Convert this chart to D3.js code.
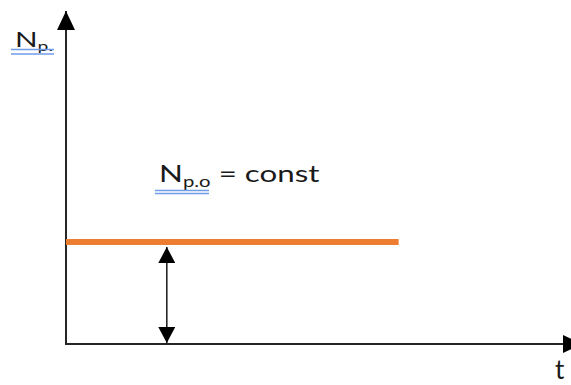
<!DOCTYPE html>
<html>
<head>
<meta charset="utf-8">
<script src="https://cdn.jsdelivr.net/npm/d3@7"></script>
<style>
  html, body { margin: 0; padding: 0; background: #fff; }
  svg { display: block; font-family: Lato, "Open Sans", sans-serif; }
</style>
</head>
<body>
<div id="chart"></div>
<script>
'use strict';

// data
const timeDomain = [0, 10];
const levelDomain = [0, 1];
const constTimes = [0, 6.6];
const constValues = [1, 1];
const markerTime = [2];
const axisLabelY = { main: 'N', sub: 'p.' };
const lineLabel = { main: 'N', sub: 'p.o', rest: ' = const' };
const axisLabelX = 't';

const W = 571, H = 385;
const ORANGE = '#ED7D31';
const AXIS = '#262626';
const SPELL = '#6f9be8';

const x = d3.scaleLinear().domain(timeDomain).range([66, 570]);
const y = d3.scaleLinear().domain(levelDomain).range([344, 242]);

const svg = d3.select('#chart').append('svg')
  .attr('width', W).attr('height', H);

const defs = svg.append('defs');
function arrowMarker(id, w, h) {
  defs.append('marker')
    .attr('id', id)
    .attr('viewBox', `0 0 ${h} ${w}`)
    .attr('refX', h).attr('refY', w / 2)
    .attr('markerUnits', 'userSpaceOnUse')
    .attr('markerWidth', h).attr('markerHeight', w)
    .attr('orient', 'auto-start-reverse')
    .append('path')
    .attr('d', `M0,0L${h},${w / 2}L0,${w}Z`)
    .attr('fill', '#000');
}
arrowMarker('axisHead', 18, 19);
arrowMarker('dimHead', 17, 16);

// axes
const yTop = y.invert(11);
svg.append('line')
  .attr('x1', x(0)).attr('y1', y(0))
  .attr('x2', x(0)).attr('y2', y(yTop))
  .attr('stroke', AXIS).attr('stroke-width', 2)
  .attr('marker-end', 'url(#axisHead)');

svg.append('line')
  .attr('x1', x(0) - 1).attr('y1', y(0))
  .attr('x2', x.range()[1] + 12).attr('y2', y(0))
  .attr('stroke', AXIS).attr('stroke-width', 2.2)
  .attr('marker-end', 'url(#axisHead)');

// constant level
const pts = constTimes.map((t, i) => [t, constValues[i]]);
svg.append('path')
  .datum(pts)
  .attr('d', d3.line().x(d => x(d[0])).y(d => y(d[1])))
  .attr('fill', 'none')
  .attr('stroke', ORANGE)
  .attr('stroke-width', 6);

// dimension arrow
markerTime.forEach(t => {
  svg.append('line')
    .attr('x1', x(t)).attr('x2', x(t))
    .attr('y1', y(constValues[0]) + 5)
    .attr('y2', y(0) - 1)
    .attr('stroke', AXIS).attr('stroke-width', 1.6)
    .attr('marker-start', 'url(#dimHead)')
    .attr('marker-end', 'url(#dimHead)');
});

// labels (source text looks stretched sideways, so fit to a width)
function subLabel(px, py, size, lbl, width) {
  const t = svg.append('text')
    .attr('x', px).attr('y', py)
    .attr('font-size', size)
    .attr('fill', '#1a1a1a');
  t.append('tspan').text(lbl.main);
  t.append('tspan')
    .attr('font-size', size * 0.65)
    .attr('dy', size * 0.2)
    .text(lbl.sub);
  if (lbl.rest) {
    t.append('tspan')
      .attr('dy', -size * 0.2)
      .text(lbl.rest);
  }
  const bw = t.node().getBBox().width;
  const k = width / bw;
  t.attr('transform', `translate(${px},0) scale(${k},1) translate(${-px},0)`);
  return t;
}

function spellLines(x1, x2, yy, gap) {
  [0, gap].forEach(off => {
    svg.append('line')
      .attr('x1', x1).attr('x2', x2)
      .attr('y1', yy + off).attr('y2', yy + off)
      .attr('stroke', SPELL).attr('stroke-width', 1.6);
  });
}

subLabel(15, 47, 21, axisLabelY, 38);
spellLines(11, 54, 49.5, 4.5);

subLabel(159, 182, 24, lineLabel, 161);
spellLines(155, 209, 190.5, 3);

svg.append('text')
  .attr('x', 555).attr('y', 379)
  .attr('font-size', 26)
  .attr('fill', '#1a1a1a')
  .text(axisLabelX);
</script>
</body>
</html>
